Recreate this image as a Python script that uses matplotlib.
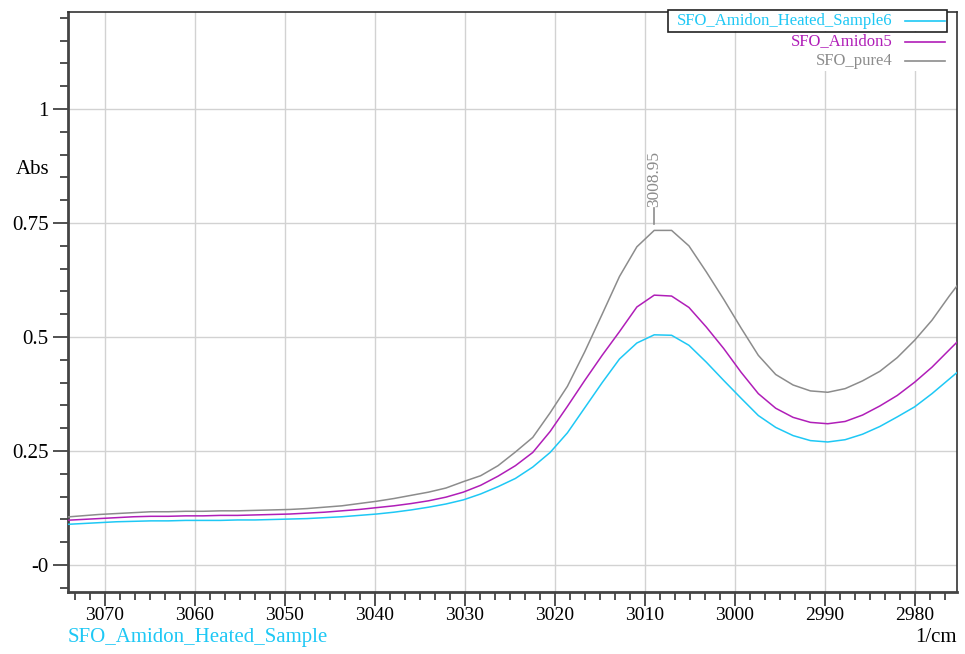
import matplotlib
matplotlib.use('Agg')
import matplotlib.pyplot as plt
from matplotlib.ticker import MultipleLocator, FixedLocator, FixedFormatter
from matplotlib.patches import Rectangle

# wavenumbers (1/cm), sampled about every 1.93 cm-1
wavenumber = [3074.54, 3072.61, 3070.68, 3068.75, 3066.82, 3064.89, 3062.96, 3061.03,
              3059.10, 3057.17, 3055.25, 3053.32, 3051.39, 3049.46, 3047.53, 3045.60,
              3043.67, 3041.74, 3039.81, 3037.88, 3035.96, 3034.03, 3032.10, 3030.17,
              3028.24, 3026.31, 3024.38, 3022.45, 3020.52, 3018.60, 3016.67, 3014.74,
              3012.81, 3010.88, 3008.95, 3007.02, 3005.09, 3003.16, 3001.23, 2999.30,
              2997.38, 2995.45, 2993.52, 2991.59, 2989.66, 2987.73, 2985.80, 2983.87,
              2981.94, 2980.01, 2978.08, 2976.16, 2974.23]

heated6 = [0.089, 0.091, 0.093, 0.095, 0.096, 0.097, 0.097, 0.098,
           0.098, 0.098, 0.099, 0.099, 0.100, 0.101, 0.102, 0.104,
           0.106, 0.109, 0.112, 0.116, 0.121, 0.127, 0.134, 0.143,
           0.156, 0.172, 0.190, 0.215, 0.247, 0.290, 0.345, 0.400,
           0.452, 0.487, 0.505, 0.504, 0.482, 0.445, 0.405, 0.366,
           0.328, 0.302, 0.284, 0.273, 0.270, 0.275, 0.287, 0.304,
           0.325, 0.347, 0.376, 0.408, 0.440]

amidon5 = [0.098, 0.100, 0.102, 0.104, 0.106, 0.107, 0.107, 0.108,
           0.108, 0.109, 0.109, 0.110, 0.111, 0.112, 0.114, 0.116,
           0.119, 0.122, 0.126, 0.130, 0.135, 0.141, 0.149, 0.160,
           0.175, 0.195, 0.218, 0.247, 0.293, 0.348, 0.405, 0.460,
           0.512, 0.566, 0.592, 0.590, 0.565, 0.522, 0.475, 0.423,
           0.376, 0.344, 0.324, 0.313, 0.310, 0.315, 0.329, 0.349,
           0.372, 0.401, 0.434, 0.472, 0.510]

pure4 = [0.105, 0.108, 0.111, 0.113, 0.115, 0.117, 0.117, 0.118,
         0.118, 0.119, 0.119, 0.120, 0.121, 0.122, 0.124, 0.127,
         0.130, 0.135, 0.140, 0.146, 0.153, 0.160, 0.169, 0.183,
         0.196, 0.218, 0.248, 0.280, 0.334, 0.392, 0.468, 0.550,
         0.633, 0.698, 0.734, 0.734, 0.700, 0.643, 0.583, 0.520,
         0.460, 0.418, 0.395, 0.382, 0.379, 0.387, 0.404, 0.425,
         0.455, 0.493, 0.537, 0.590, 0.640]

series_names = ['SFO_Amidon_Heated_Sample6', 'SFO_Amidon5', 'SFO_pure4']
series_colors = ['#1EC8F5', '#B01EB8', '#8C8C8C']

peak_x = 3008.95
peak_y = 0.734

ytick_values = [0, 0.25, 0.5, 0.75, 1]
ytick_labels = ['-0', '0.25', '0.5', '0.75', '1']

plt.rcParams['font.family'] = ['Liberation Serif', 'DejaVu Serif']

fig = plt.figure(figsize=(9.65, 6.54), dpi=100)
ax = fig.add_axes([0.0705, 0.0948, 0.9212, 0.8869])

ax.set_xlim(3074.1, 2975.3)
ax.set_ylim(-0.059, 1.213)

ax.grid(True, which='major', color='#d2d2d2', lw=1, zorder=0)

for y, name, col in zip([heated6, amidon5, pure4], series_names, series_colors):
    ax.plot(wavenumber, y, color=col, lw=1.1, zorder=3)

# peak label
ax.plot([peak_x, peak_x], [peak_y + 0.014, peak_y + 0.05], color='#8C8C8C', lw=1.2, zorder=3)
ax.text(peak_x, peak_y + 0.052, '%.2f' % peak_x, rotation=90, ha='center', va='bottom',
        fontsize=12.5, color='#8C8C8C')

# ticks
ax.xaxis.set_major_locator(MultipleLocator(10))
ax.xaxis.set_minor_locator(MultipleLocator(10 / 6))
ax.yaxis.set_major_locator(FixedLocator(ytick_values))
ax.yaxis.set_major_formatter(FixedFormatter(ytick_labels))
ax.yaxis.set_minor_locator(MultipleLocator(0.05))
ax.tick_params(axis='both', which='major', color='#333333', width=1.2)
ax.tick_params(axis='x', which='major', length=10, pad=1, labelsize=14)
ax.tick_params(axis='x', which='minor', length=6, color='#333333', width=1.2)
ax.tick_params(axis='y', which='major', length=11, pad=3, labelsize=15)
ax.tick_params(axis='y', which='minor', length=6, color='#333333', width=1.2)

for side in ['left', 'bottom']:
    ax.spines[side].set_color('#444444')
    ax.spines[side].set_linewidth(2)
for side in ['top', 'right']:
    ax.spines[side].set_color('#333333')
    ax.spines[side].set_linewidth(1.2)

# axis labels
ax.text(-0.021, 0.728, 'Abs', transform=ax.transAxes, ha='right', va='center', fontsize=15)
fig.text(0.0705, 0.0245, 'SFO_Amidon_Heated_Sample', ha='left', va='center',
         fontsize=15, color=series_colors[0])
fig.text(0.9917, 0.0245, '1/cm', ha='right', va='center', fontsize=15)

# legend, text right aligned with line on the right, white behind each row
leg_y = [0.984, 0.949, 0.915]
leg_left = [0.675, 0.808, 0.836]
row_h = 0.034
for yy, x0, name, col in zip(leg_y, leg_left, series_names, series_colors):
    ax.add_patch(Rectangle((x0, yy - row_h / 2), 0.989 - x0, row_h, transform=ax.transAxes,
                           fc='white', ec='none', clip_on=False, zorder=4))
    ax.text(0.928, yy, name, transform=ax.transAxes, ha='right', va='center',
            fontsize=12, color=col, zorder=6)
    ax.plot([0.9415, 0.9865], [yy, yy], transform=ax.transAxes, color=col,
            lw=1.2, clip_on=False, zorder=6)
ax.add_patch(Rectangle((0.675, 0.966), 0.314, 0.038, transform=ax.transAxes,
                       fill=False, ec='#222222', lw=1.2, clip_on=False, zorder=7))

fig.savefig('out.png', dpi=100)
plt.close(fig)
